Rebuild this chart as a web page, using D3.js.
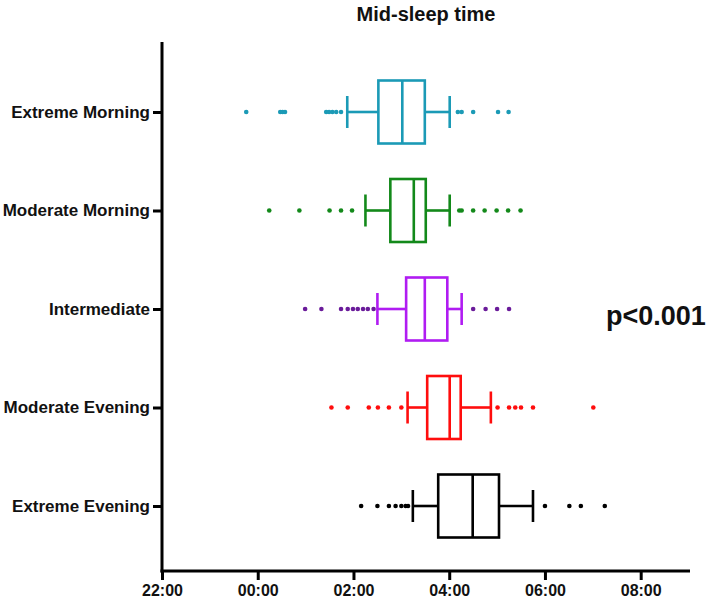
<!DOCTYPE html>
<html>
<head>
<meta charset="utf-8">
<script src="https://cdn.jsdelivr.net/npm/d3@7"></script>
<style>
  html, body { margin: 0; padding: 0; background: #fff; }
  svg { display: block; }
  text { font-family: "Liberation Sans", Arial, sans-serif; font-weight: bold; fill: #111; }
</style>
</head>
<body>
<div id="chart"></div>
<script>
// ---- Data (hours relative to midnight; negative = before midnight) ----
const categories = ["Extreme Morning", "Moderate Morning", "Intermediate", "Moderate Evening", "Extreme Evening"];
const whiskerLow  = [1.87, 2.25, 2.50, 3.13, 3.24];
const q1          = [2.52, 2.77, 3.10, 3.54, 3.77];
const median      = [3.02, 3.26, 3.49, 4.01, 4.49];
const q3          = [3.49, 3.51, 3.96, 4.24, 5.04];
const whiskerHigh = [4.01, 4.01, 4.26, 4.87, 5.75];
const outliersExtremeMorning  = [-0.24, 0.47, 0.52, 0.57, 1.43, 1.49, 1.56, 1.64, 1.74, 4.18, 4.26, 4.50, 5.02, 5.24];
const outliersModerateMorning = [0.24, 0.87, 1.50, 1.74, 1.97, 4.21, 4.26, 4.50, 4.74, 4.99, 5.23, 5.49];
const outliersIntermediate    = [0.99, 1.33, 1.74, 1.88, 1.99, 2.09, 2.20, 2.30, 2.42, 4.50, 4.76, 5.00, 5.25];
const outliersModerateEvening = [1.54, 1.88, 2.32, 2.51, 2.74, 3.00, 5.01, 5.25, 5.38, 5.50, 5.75, 7.01];
const outliersExtremeEvening  = [2.16, 2.50, 2.74, 2.88, 3.00, 3.09, 3.14, 6.00, 6.51, 6.75, 7.25];
const outliers = [outliersExtremeMorning, outliersModerateMorning, outliersIntermediate, outliersModerateEvening, outliersExtremeEvening];
const boxColors = ["#1B9AB6", "#13891A", "#B01CF2", "#FF0D0D", "#000000"];
const dotColors = ["#1B9AB6", "#13891A", "#6A1B9A", "#FF0D0D", "#000000"];
const tickValues = [-2, 0, 2, 4, 6, 8];
const tickLabels = ["22:00", "00:00", "02:00", "04:00", "06:00", "08:00"];
const title = "Mid-sleep time";
const pText = "p<0.001";

// ---- Layout ----
const W = 708, H = 608;
const axisX = 162, axisY = 571, axisTop = 42, plotRight = 690;

const svg = d3.select("#chart").append("svg").attr("width", W).attr("height", H);

const x = d3.scaleLinear().domain([-2, 9.03]).range([axisX, plotRight]);
const y = d3.scalePoint().domain(categories).range([112, 506]);

const boxH = 63, capH = 32, sw = 2.6;

// Axes lines
svg.append("line").attr("x1", axisX).attr("x2", axisX).attr("y1", axisTop).attr("y2", axisY + 1.5)
  .attr("stroke", "#000").attr("stroke-width", 3);

const xAxis = svg.append("g").attr("transform", `translate(0,${axisY})`)
  .call(d3.axisBottom(x).tickValues(tickValues).tickFormat((d, i) => tickLabels[i]).tickSize(9).tickSizeOuter(0).tickPadding(5));
xAxis.select(".domain").attr("stroke", "#000").attr("stroke-width", 3).attr("d", `M${axisX - 1.5},0H${plotRight}`);
xAxis.selectAll(".tick line").attr("stroke", "#000").attr("stroke-width", 3);
xAxis.selectAll(".tick text").attr("font-size", 16).attr("font-weight", "bold").attr("fill", "#111")
  .attr("font-family", "'Liberation Sans', Arial, sans-serif");

const yAxis = svg.append("g").attr("transform", `translate(${axisX},0)`)
  .call(d3.axisLeft(y).tickSize(9).tickSizeOuter(0).tickPadding(3));
yAxis.select(".domain").remove();
yAxis.selectAll(".tick line").attr("stroke", "#000").attr("stroke-width", 3);
yAxis.selectAll(".tick text").attr("font-size", 17).attr("font-weight", "bold").attr("fill", "#111")
  .attr("font-family", "'Liberation Sans', Arial, sans-serif");

// Boxes
categories.forEach((c, i) => {
  const g = svg.append("g");
  const cy = y(c);
  const col = boxColors[i];
  g.append("line").attr("x1", x(whiskerLow[i])).attr("x2", x(q1[i])).attr("y1", cy).attr("y2", cy)
    .attr("stroke", col).attr("stroke-width", sw);
  g.append("line").attr("x1", x(q3[i])).attr("x2", x(whiskerHigh[i])).attr("y1", cy).attr("y2", cy)
    .attr("stroke", col).attr("stroke-width", sw);
  [whiskerLow[i], whiskerHigh[i]].forEach(v => {
    g.append("line").attr("x1", x(v)).attr("x2", x(v)).attr("y1", cy - capH / 2).attr("y2", cy + capH / 2)
      .attr("stroke", col).attr("stroke-width", sw);
  });
  g.append("rect").attr("x", x(q1[i])).attr("y", cy - boxH / 2)
    .attr("width", x(q3[i]) - x(q1[i])).attr("height", boxH)
    .attr("fill", "none").attr("stroke", col).attr("stroke-width", sw);
  g.append("line").attr("x1", x(median[i])).attr("x2", x(median[i])).attr("y1", cy - boxH / 2).attr("y2", cy + boxH / 2)
    .attr("stroke", col).attr("stroke-width", sw);
  g.selectAll("circle").data(outliers[i]).enter().append("circle")
    .attr("cx", d => x(d)).attr("cy", cy).attr("r", 2.3).attr("fill", dotColors[i]);
});

// Title
svg.append("text").attr("x", 426).attr("y", 21).attr("text-anchor", "middle")
  .attr("font-size", 20).text(title);

// p-value
svg.append("text").attr("x", 606).attr("y", 325).attr("font-size", 27).text(pText);
</script>
</body>
</html>
